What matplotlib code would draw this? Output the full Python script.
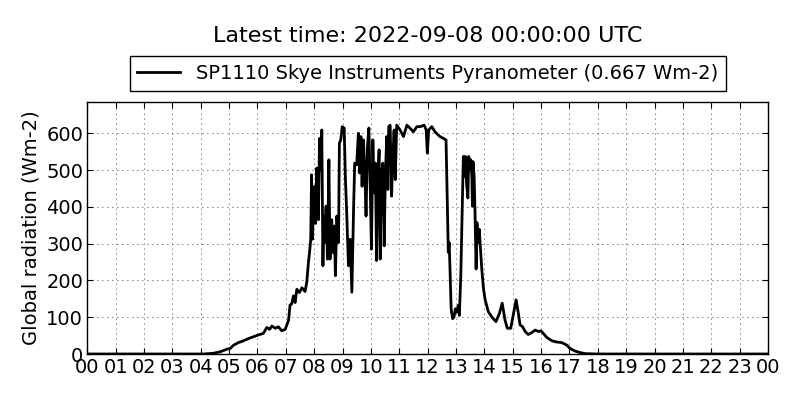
import matplotlib
matplotlib.use('Agg')
import matplotlib.pyplot as plt

# hours since midnight and radiation (Wm-2)
hours = [0.0, 4.10, 4.45, 4.69, 4.92, 5.04, 5.16, 5.33, 5.51, 5.69, 5.86, 6.04,
         6.21, 6.33, 6.43, 6.51, 6.63, 6.74, 6.86, 6.98, 7.10, 7.15, 7.21, 7.27,
         7.33, 7.39, 7.48, 7.57, 7.68, 7.74, 7.80, 7.84, 7.88, 7.91, 7.94, 7.98,
         8.01, 8.05, 8.09, 8.15, 8.19, 8.24, 8.27, 8.31, 8.34, 8.38, 8.42, 8.47,
         8.52, 8.56, 8.62, 8.66, 8.71, 8.75, 8.80, 8.86, 8.89, 8.94, 8.99, 9.06,
         9.10, 9.15, 9.21, 9.27, 9.33, 9.39, 9.43, 9.50, 9.56, 9.60, 9.65, 9.69,
         9.74, 9.79, 9.83, 9.88, 9.93, 9.97, 10.02, 10.07, 10.12, 10.16, 10.20,
         10.24, 10.29, 10.33, 10.37, 10.42, 10.47, 10.51, 10.56, 10.60, 10.63,
         10.68, 10.73, 10.77, 10.82, 10.86, 10.91, 11.03, 11.15, 11.27, 11.38,
         11.50, 11.62, 11.74, 11.88, 11.95, 11.99, 12.04, 12.15, 12.26, 12.38,
         12.44, 12.56, 12.65, 12.70, 12.73, 12.76, 12.79, 12.83, 12.88, 12.93,
         12.98, 13.03, 13.08, 13.12, 13.17, 13.22, 13.26, 13.30, 13.33, 13.38,
         13.42, 13.45, 13.49, 13.52, 13.56, 13.58, 13.60, 13.64, 13.67, 13.71,
         13.74, 13.78, 13.82, 13.85, 13.91, 13.97, 14.03, 14.14, 14.26, 14.41,
         14.53, 14.63, 14.73, 14.81, 14.93, 15.03, 15.12, 15.20, 15.26, 15.35,
         15.44, 15.55, 15.67, 15.79, 15.91, 15.99, 16.08, 16.20, 16.38, 16.52,
         16.73, 16.91, 17.02, 17.20, 17.37, 17.55, 17.96, 24.0]
radiation = [0, 0, 2, 6, 13, 15, 24, 31, 36, 42, 47, 52,
             56, 72, 67, 76, 70, 74, 63, 67, 92, 133, 136, 158,
             140, 176, 167, 180, 170, 195, 250, 277, 312, 487, 312, 410,
             455, 355, 505, 365, 586, 500, 609, 240, 375, 303, 402, 258,
             528, 258, 365, 276, 348, 213, 375, 303, 573, 582, 618, 614,
             483, 379, 240, 312, 168, 393, 519, 514, 600, 492, 591, 456,
             582, 483, 375, 564, 614, 483, 285, 582, 438, 519, 254,
             456, 555, 258, 483, 519, 294, 483, 591, 447, 618,
             622, 429, 528, 609, 474, 622, 609, 591, 622, 614,
             604, 618, 618, 622, 609, 546, 609, 618, 604, 595,
             591, 586, 582, 393, 276, 303, 231, 123, 96, 100,
             123, 114, 132, 105, 213, 393, 537, 483, 537, 456,
             424, 537, 501, 528, 483, 402, 523, 483, 393, 231,
             357, 303, 339, 303, 231, 177, 147, 115, 101, 88,
             110, 138, 92, 70, 70, 110, 147, 110, 79, 74,
             61, 53, 58, 65, 61, 63, 56, 45, 36, 33,
             31, 24, 15, 8, 4, 1, 0, 0]

tick_labels = ['%02d' % (h % 24) for h in range(25)]

fig = plt.figure(figsize=(8, 4), dpi=100)
ax = fig.add_axes([0.109, 0.115, 0.851, 0.63])

ax.plot(hours, radiation, color='black', lw=2,
        label='SP1110 Skye Instruments Pyranometer (0.667 Wm-2)')

ax.set_xlim(0, 24)
ax.set_ylim(0, 685)
ax.set_xticks(range(25))
ax.set_xticklabels(tick_labels)
ax.set_yticks(range(0, 700, 100))
ax.tick_params(direction='in', top=True, right=True, labelsize=14, length=4, pad=3)
ax.grid(True, color='black', linestyle=(0, (1, 5)), linewidth=0.6)
for sp in ax.spines.values():
    sp.set_linewidth(1)

ax.set_ylabel('Global radiation (Wm-2)', fontsize=14)
fig.suptitle('Latest time: 2022-09-08 00:00:00 UTC', fontsize=16, x=0.534, y=0.935)

leg = ax.legend(loc='lower center', bbox_to_anchor=(0.5, 1.045), fontsize=14,
                fancybox=False, framealpha=1, edgecolor='black', borderaxespad=0,
                handlelength=2.2)
leg.get_frame().set_linewidth(1)

fig.savefig('out.png', dpi=100)
